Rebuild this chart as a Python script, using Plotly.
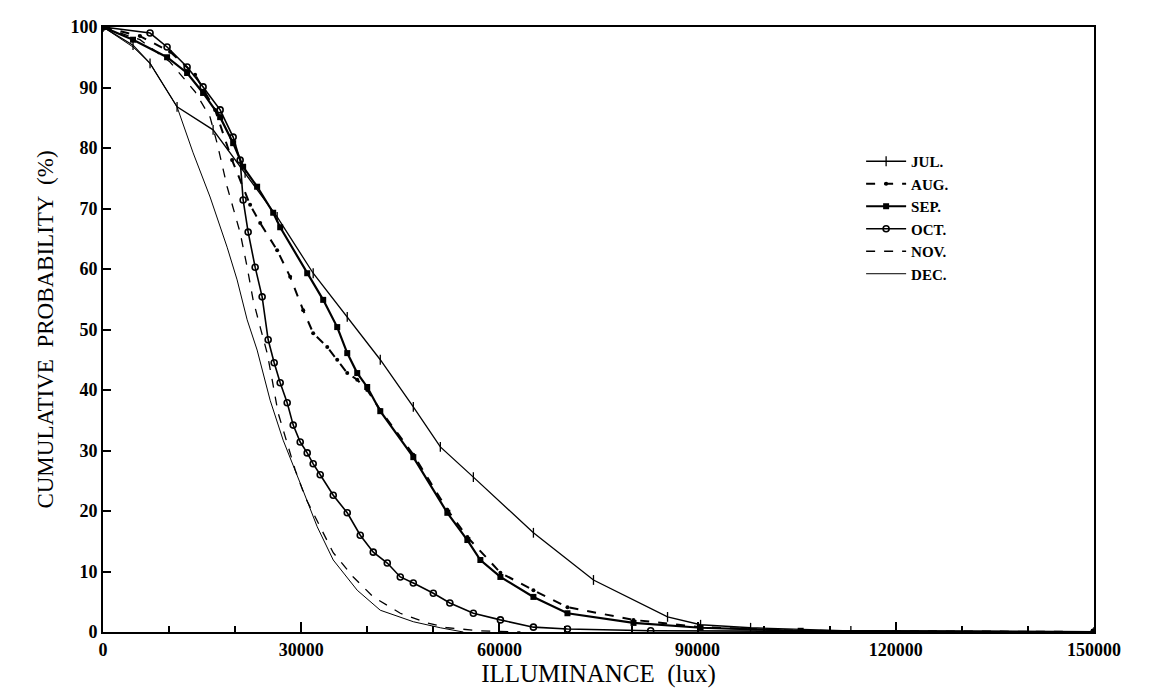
import plotly.graph_objects as go

# ---- data (lux, cumulative probability %) ----
jul_x = [0, 4545, 7120, 11210, 16665, 21510, 26360, 31815, 36970, 41970, 46970, 51060, 56060, 65150, 74240, 85450, 90450, 98020, 113200, 150000]
jul_y = [100, 97.0, 94.0, 86.8, 83.0, 75.9, 68.6, 59.3, 52.1, 45.0, 37.2, 30.6, 25.6, 16.4, 8.6, 2.5, 1.2, 0.7, 0.2, 0]

aug_x = [0, 5600, 10150, 13940, 16970, 19540, 22270, 23790, 26360, 28330, 30300, 31815, 33940, 35450, 36970, 38480, 39990, 41970, 46970, 52120, 55150, 60150, 65150, 70300, 80300, 90450, 105600, 150000]
aug_y = [100, 98.5, 95.9, 92.1, 86.3, 78.0, 70.6, 67.6, 63.1, 58.7, 53.2, 49.4, 47.1, 45.0, 42.8, 41.7, 40.0, 36.7, 29.3, 20.2, 15.7, 9.8, 6.9, 4.1, 2.0, 0.8, 0.2, 0]

sep_x = [0, 4545, 9700, 12730, 15150, 17730, 19700, 21210, 23330, 25760, 26820, 30910, 33330, 35450, 36970, 38480, 39990, 41970, 46970, 52120, 55150, 57120, 60150, 65150, 70300, 80300, 90450, 105600, 150000]
sep_y = [100, 97.9, 95.0, 92.4, 89.1, 85.1, 80.8, 76.9, 73.6, 69.3, 66.9, 59.3, 54.9, 50.4, 46.1, 42.8, 40.5, 36.5, 28.9, 19.7, 15.2, 11.9, 9.1, 5.8, 3.1, 1.5, 0.7, 0.2, 0]

oct_x = [0, 7120, 9700, 12730, 15150, 17730, 19700, 20760, 21210, 21970, 23030, 24090, 25000, 25910, 26820, 27880, 28790, 29850, 30910, 31815, 32880, 34850, 36970, 38940, 40910, 43030, 45000, 46970, 50000, 52500, 56060, 60150, 65150, 70300, 82900, 150000]
oct_y = [100, 99.0, 96.7, 93.4, 90.1, 86.3, 81.8, 78.0, 71.4, 66.1, 60.3, 55.4, 48.3, 44.5, 41.2, 37.9, 34.2, 31.4, 29.6, 27.8, 26.0, 22.6, 19.7, 16.0, 13.2, 11.4, 9.1, 8.1, 6.4, 4.8, 3.1, 2.0, 0.8, 0.5, 0.2, 0]

nov_x = [0, 5600, 10150, 13940, 16210, 17270, 18790, 19700, 20760, 21820, 22720, 23790, 24850, 25600, 26510, 27880, 29090, 30600, 34850, 37880, 40910, 45000, 49090, 52120, 57120, 63180]
nov_y = [100, 97.9, 94.2, 89.3, 85.1, 80.8, 73.6, 70.2, 66.0, 60.3, 54.9, 50.4, 46.1, 41.7, 36.2, 31.2, 26.8, 22.3, 13.1, 9.1, 5.8, 3.1, 1.5, 0.7, 0.2, 0]

dec_x = [0, 4545, 7120, 11210, 13640, 16210, 18790, 20300, 21820, 23330, 25300, 27270, 29850, 32420, 34850, 38480, 41970, 46970, 51060, 54540]
dec_y = [100, 96.7, 94.0, 86.8, 79.2, 71.9, 63.6, 58.2, 51.6, 46.6, 38.3, 31.7, 24.6, 17.4, 11.9, 6.9, 3.6, 1.7, 0.7, 0]

x_ticks = [0, 30000, 60000, 90000, 120000, 150000]
y_ticks = [0, 10, 20, 30, 40, 50, 60, 70, 80, 90, 100]

SERIF = "Liberation Serif, DejaVu Serif, serif"

fig = go.Figure()
fig.add_trace(go.Scatter(x=jul_x, y=jul_y, name="JUL.", mode="lines+markers",
                         line=dict(color="black", width=1.3),
                         marker=dict(symbol="line-ns", size=7, line=dict(color="black", width=1.3))))
fig.add_trace(go.Scatter(x=aug_x, y=aug_y, name="AUG.", mode="lines+markers",
                         line=dict(color="black", width=2, dash="dash"),
                         marker=dict(symbol="circle", size=4, color="black")))
fig.add_trace(go.Scatter(x=sep_x, y=sep_y, name="SEP.", mode="lines+markers",
                         line=dict(color="black", width=2.2),
                         marker=dict(symbol="square", size=6, color="black")))
fig.add_trace(go.Scatter(x=oct_x, y=oct_y, name="OCT.", mode="lines+markers",
                         line=dict(color="black", width=1.6),
                         marker=dict(symbol="circle-open", size=6, color="black", line=dict(width=1.6))))
fig.add_trace(go.Scatter(x=nov_x, y=nov_y, name="NOV.", mode="lines",
                         line=dict(color="black", width=1.3, dash="dash")))
fig.add_trace(go.Scatter(x=dec_x, y=dec_y, name="DEC.", mode="lines",
                         line=dict(color="black", width=1)))

fig.update_layout(
    width=1159, height=690,
    margin=dict(l=103, r=65, t=27, b=58),
    paper_bgcolor="white", plot_bgcolor="white",
    font=dict(family=SERIF, color="black"),
    showlegend=True,
    legend=dict(x=0.765, y=0.805, xanchor="left", yanchor="top",
                bgcolor="rgba(0,0,0,0)", borderwidth=0,
                font=dict(family=SERIF, size=15, weight="bold", color="black"),
                tracegroupgap=0, itemwidth=40),
)
fig.update_xaxes(
    range=[0, 150000], tickvals=x_ticks, ticktext=[str(v) for v in x_ticks],
    ticks="inside", ticklen=10, tickwidth=1.5, tickcolor="black",
    minor=dict(dtick=10000, ticks="inside", ticklen=6, tickwidth=1.5, tickcolor="black"),
    showline=True, linecolor="black", linewidth=2, mirror=True,
    showgrid=False, zeroline=False,
    tickfont=dict(family=SERIF, size=18, weight="bold"),
    title=dict(text="ILLUMINANCE  (lux)", font=dict(family=SERIF, size=25), standoff=2),
)
fig.update_yaxes(
    range=[0, 100], tickvals=y_ticks, ticktext=[str(v) for v in y_ticks],
    ticks="inside", ticklen=8, tickwidth=1.5, tickcolor="black",
    showline=True, linecolor="black", linewidth=2, mirror=True,
    showgrid=False, zeroline=False,
    tickfont=dict(family=SERIF, size=18, weight="bold"),
    title=dict(text="CUMULATIVE  PROBABILITY  (%)", font=dict(family=SERIF, size=23), standoff=10),
)

fig.write_html("out.html")
